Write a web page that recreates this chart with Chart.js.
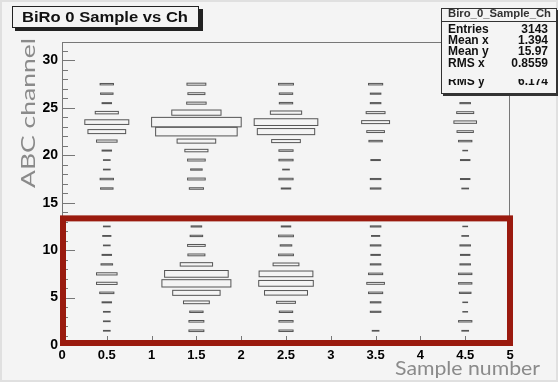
<!DOCTYPE html>
<html>
<head>
<meta charset="utf-8">
<style>
  html, body { margin: 0; padding: 0; background: #f4f4f4; }
  #wrap { width: 558px; height: 382px; }
</style>
</head>
<body>
<div id="wrap"><canvas id="biroChart" width="558" height="382"></canvas></div>
<script src="https://cdn.jsdelivr.net/npm/chart.js@4.4.0/dist/chart.umd.min.js"></script>
<script>
// sample number bins (centres, width 1)
var sampleCentres = [0.5, 1.5, 2.5, 3.5, 4.5];
// ABC channel bins (lower edge, width 1)
var channels = [1, 2, 3, 4, 5, 6, 7, 8, 9, 10, 11, 12, 16, 17, 18, 19, 20, 21, 22, 23, 24, 25, 26, 27];
// entries per channel, one array per sample bin
var sample0 = [2, 2, 2, 4, 9, 19, 19, 6, 4, 2, 3, 2, 7, 8, 2, 2, 4, 19, 64, 87, 24, 4, 7, 8];
var sample1 = [10, 10, 8, 30, 101, 214, 182, 47, 13, 14, 7, 5, 9, 14, 6, 14, 24, 67, 299, 361, 109, 17, 13, 16];
var sample2 = [9, 9, 8, 16, 83, 134, 130, 30, 10, 6, 10, 4, 4, 9, 2, 9, 9, 37, 148, 182, 44, 8, 8, 10];
var sample3 = [2, 0, 5, 5, 9, 14, 9, 5, 4, 5, 3, 5, 5, 5, 0, 4, 0, 8, 14, 35, 16, 5, 5, 9];
var sample4 = [2, 8, 1, 1, 6, 8, 8, 5, 4, 5, 2, 1, 2, 4, 0, 4, 1, 8, 12, 23, 13, 5, 5, 5];

var histName = 'Biro_0_Sample_Ch';
var statsLabels = ['Entries', 'Mean x', 'Mean y', 'RMS x', 'RMS y'];
var statsValues = ['3143', '1.394', '15.97', '0.8559', '6.174'];
// highlighted region (axis units)
var highlightY = [0, 13.35];

var points = [];
[sample0, sample1, sample2, sample3, sample4].forEach(function (row, i) {
    row.forEach(function (n, j) {
        if (n > 0) points.push({ x: sampleCentres[i], y: channels[j] + 0.5, n: n });
    });
});
var zMax = Math.max.apply(null, points.map(function (p) { return p.n; }));

// draw text squeezed/stretched to a given width
function fitText(ctx, text, x, y, width) {
    var w = ctx.measureText(text).width;
    ctx.save();
    ctx.translate(x, y);
    ctx.scale(width / w, 1);
    ctx.textAlign = 'left';
    ctx.fillText(text, 0, 0);
    ctx.restore();
}

var rootPainter = {
    id: 'rootPainter',
    beforeDraw: function (chart) {
        var ctx = chart.ctx;
        ctx.save();
        ctx.fillStyle = '#f4f4f4';
        ctx.fillRect(0, 0, chart.width, chart.height);
        ctx.strokeStyle = '#e0e0e0';
        ctx.lineWidth = 2;
        ctx.strokeRect(1, 1, chart.width - 2, chart.height - 2);
        ctx.restore();
    },
    afterDatasetsDraw: function (chart) {
        // BOX option: side proportional to sqrt(content)
        var ctx = chart.ctx, xs = chart.scales.x, ys = chart.scales.y;
        ctx.save();
        ctx.strokeStyle = '#555';
        ctx.lineWidth = 1;
        points.forEach(function (p) {
            var r = Math.sqrt(p.n / zMax) / 2;
            var x0 = xs.getPixelForValue(p.x - r), x1 = xs.getPixelForValue(p.x + r);
            var y0 = ys.getPixelForValue(p.y + r), y1 = ys.getPixelForValue(p.y - r);
            ctx.strokeRect(x0, y0, x1 - x0, y1 - y0);
        });
        ctx.restore();
    },
    afterDraw: function (chart) {
        var ctx = chart.ctx, xs = chart.scales.x, ys = chart.scales.y, a = chart.chartArea;
        ctx.save();

        // frame and inward ticks
        ctx.strokeStyle = '#777';
        ctx.lineWidth = 1;
        ctx.beginPath();
        ctx.moveTo(Math.round(a.left) + 0.5, a.bottom);
        ctx.lineTo(Math.round(a.left) + 0.5, Math.round(a.top) + 0.5);
        ctx.lineTo(Math.round(a.right) - 0.5, Math.round(a.top) + 0.5);
        ctx.lineTo(Math.round(a.right) - 0.5, a.bottom);
        for (var v = 0; v <= 32; v++) {
            var py = Math.round(ys.getPixelForValue(v)) + 0.5;
            ctx.moveTo(a.left, py);
            ctx.lineTo(a.left + (v % 5 === 0 ? 13 : 6), py);
        }
        for (var k = 0; k <= 50; k++) {
            var px = Math.round(xs.getPixelForValue(k / 10)) + 0.5;
            ctx.moveTo(px, a.bottom);
            ctx.lineTo(px, a.bottom - (k % 5 === 0 ? 9 : 4));
        }
        ctx.stroke();

        // red highlight
        ctx.strokeStyle = '#9a1a0e';
        ctx.lineWidth = 6;
        var hx0 = xs.getPixelForValue(0) + 1, hx1 = xs.getPixelForValue(5);
        var hy0 = ys.getPixelForValue(highlightY[1]), hy1 = ys.getPixelForValue(highlightY[0]) - 2;
        ctx.strokeRect(hx0, hy0, hx1 - hx0, hy1 - hy0);

        // title pave
        ctx.fillStyle = '#222';
        ctx.fillRect(15, 9, 188, 22);
        ctx.fillStyle = '#f4f4f4';
        ctx.fillRect(12, 6, 187, 22);
        ctx.strokeStyle = '#222';
        ctx.lineWidth = 1;
        ctx.strokeRect(12.5, 6.5, 186, 21);
        ctx.fillStyle = '#111';
        ctx.font = 'bold 14px "Liberation Sans", Arial, sans-serif';
        ctx.textBaseline = 'alphabetic';
        fitText(ctx, 'BiRo 0 Sample vs Ch', 22, 21.5, 166);

        // stats box
        ctx.fillStyle = '#333';
        ctx.fillRect(443, 10, 116, 86);
        ctx.fillStyle = '#f4f4f4';
        ctx.fillRect(441, 8, 116, 86);
        ctx.strokeStyle = '#333';
        ctx.strokeRect(441.5, 8.5, 115, 85);
        ctx.beginPath();
        ctx.moveTo(441, 21.5);
        ctx.lineTo(557, 21.5);
        ctx.stroke();
        ctx.fillStyle = '#333';
        ctx.font = 'bold 11px "Liberation Sans", Arial, sans-serif';
        fitText(ctx, histName, 448, 17, 103);
        ctx.fillStyle = '#111';
        ctx.font = 'bold 12px "Liberation Sans", Arial, sans-serif';
        var baselines = [33.3, 44.3, 55.3, 66.5, 85];
        statsLabels.forEach(function (lab, i) {
            ctx.save();
            if (i === 4) {
                ctx.beginPath();
                ctx.rect(442, 79, 114, 10);
                ctx.clip();
            }
            ctx.textAlign = 'left';
            ctx.fillText(lab, 448, baselines[i]);
            ctx.textAlign = 'right';
            ctx.fillText(statsValues[i], 548, baselines[i]);
            ctx.restore();
        });

        // axis titles
        ctx.fillStyle = '#8a8a8a';
        ctx.font = '20px Lato, "Open Sans", sans-serif';
        fitText(ctx, 'Sample number', 395, 375, 145);
        ctx.save();
        ctx.translate(35, 188);
        ctx.rotate(-Math.PI / 2);
        fitText(ctx, 'ABC channel', 0, 0, 150);
        ctx.restore();

        ctx.restore();
    }
};

Chart.defaults.font.family = '"Liberation Sans", Arial, sans-serif';
Chart.defaults.font.weight = 'bold';

var ctx = document.getElementById('biroChart').getContext('2d');
var biroChart = new Chart(ctx, {
    type: 'scatter',
    data: {
        datasets: [{
            label: histName,
            data: points,
            pointRadius: 0,
            pointHoverRadius: 0
        }]
    },
    options: {
        responsive: false,
        animation: false,
        events: [],
        layout: { padding: { top: 41.5, right: 48, left: 0, bottom: 0 } },
        plugins: {
            legend: { display: false },
            tooltip: { enabled: false }
        },
        scales: {
            x: {
                type: 'linear',
                min: 0,
                max: 5,
                ticks: {
                    stepSize: 0.5,
                    autoSkip: false,
                    maxRotation: 0,
                    padding: 3,
                    color: '#000',
                    font: { size: 13, weight: 'bold' },
                    callback: function (value) { return String(Math.round(value * 10) / 10); }
                },
                grid: { display: false, drawTicks: false },
                border: { display: false },
                afterFit: function (s) { s.height = 37; }
            },
            y: {
                type: 'linear',
                min: 0,
                max: 32,
                ticks: {
                    stepSize: 5,
                    autoSkip: false,
                    padding: 4,
                    color: '#000',
                    font: { size: 14, weight: 'bold' }
                },
                grid: { display: false, drawTicks: false },
                border: { display: false },
                afterBuildTicks: function (s) {
                    s.ticks = s.ticks.filter(function (t) { return t.value % 5 === 0; });
                },
                afterFit: function (s) { s.width = 62; }
            }
        }
    },
    plugins: [rootPainter]
});
</script>
</body>
</html>
